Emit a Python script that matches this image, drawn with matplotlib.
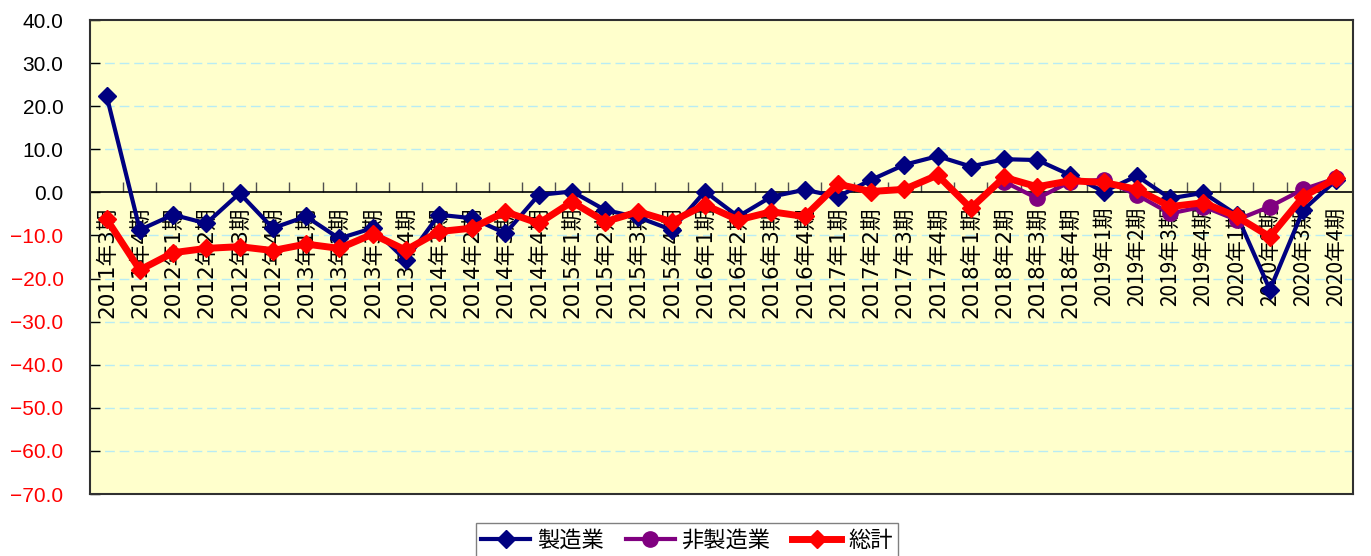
import numpy as np
import matplotlib
matplotlib.use("Agg")
import matplotlib.pyplot as plt
from matplotlib.ticker import FixedLocator

categories = [
    "2011年3期", "2011年4期",
    "2012年1期", "2012年2期", "2012年3期", "2012年4期",
    "2013年1期", "2013年2期", "2013年3期", "2013年4期",
    "2014年1期", "2014年2期", "2014年3期", "2014年4期",
    "2015年1期", "2015年2期", "2015年3期", "2015年4期",
    "2016年1期", "2016年2期", "2016年3期", "2016年4期",
    "2017年1期", "2017年2期", "2017年3期", "2017年4期",
    "2018年1期", "2018年2期", "2018年3期", "2018年4期",
    "2019年1期", "2019年2期", "2019年3期", "2019年4期",
    "2020年1期", "2020年2期", "2020年3期", "2020年4期",
]

manufacturing = [
    22.4, -8.7, -5.2, -7.2, -0.2, -8.3, -5.6, -10.7, -8.3, -15.7,
    -5.2, -6.0, -9.5, -0.6, 0.2, -4.1, -5.8, -8.7, 0.2, -5.6,
    -1.0, 0.6, -1.0, 2.9, 6.4, 8.4, 6.0, 7.7, 7.5, 4.0,
    0.2, 3.8, -1.4, -0.1, -5.2, -22.6, -4.1, 2.9,
]
non_manufacturing = [
    None, None, None, None, None, None, None, None, None, None,
    None, None, None, None, None, None, None, None, None, None,
    None, None, None, None, None, None, None, 2.5, -1.4, 2.5,
    2.9, -0.6, -4.9, -3.3, -6.4, -3.3, 0.7, 3.3,
]
total = [
    -6.2, -18.0, -14.0, -13.0, -12.6, -13.5, -12.0, -13.0, -9.7, -13.4,
    -9.1, -8.3, -4.5, -7.2, -2.2, -6.8, -4.5, -6.8, -2.9, -6.4,
    -4.5, -5.6, 1.9, 0.2, 0.7, 4.0, -3.7, 3.5, 1.3, 2.7,
    2.3, 0.7, -3.3, -2.4, -5.6, -10.3, -1.0, 3.3,
]
series_names = ["製造業", "非製造業", "総計"]

y_ticks = [40, 30, 20, 10, 0, -10, -20, -30, -40, -50, -60, -70]
y_tick_labels = ["40.0", "30.0", "20.0", "10.0", "0.0", "−10.0", "−20.0",
                 "−30.0", "−40.0", "−50.0", "−60.0", "−70.0"]

cjk = ["Noto Sans CJK JP", "DejaVu Sans"]
wide_digits = ["DejaVu Sans", "Noto Sans CJK JP"]

fig = plt.figure(figsize=(13.71, 5.56), dpi=100)
ax = fig.add_axes([90 / 1371, 1 - 494 / 556, 1263 / 1371, 474 / 556])
ax.set_facecolor("#FFFFCC")

x = np.arange(len(categories))
nm = np.array([np.nan if v is None else v for v in non_manufacturing], dtype=float)

ax.plot(x, manufacturing, color="#000080", lw=3, marker="D", ms=9,
        label=series_names[0], zorder=3)
ax.plot(x, nm, color="#800080", lw=3, marker="o", ms=11,
        label=series_names[1], zorder=4)
ax.plot(x, total, color="#FF0000", lw=5, marker="D", ms=9,
        label=series_names[2], zorder=5)

ax.set_xlim(-0.5, len(categories) - 0.5)
ax.set_ylim(-70, 40)

# grid
for yv in y_ticks:
    if yv not in (0, 40, -70):
        ax.axhline(yv, color="#B8ECF4", lw=1, dashes=(7, 3.5), zorder=1)

# spines
for s in ["left", "right", "top"]:
    ax.spines[s].set_color("#303030")
    ax.spines[s].set_linewidth(1.5)
ax.spines["bottom"].set_position(("data", 0))
ax.spines["bottom"].set_color("black")
ax.spines["bottom"].set_linewidth(1.2)
ax.spines["bottom"].set_zorder(2)
ax.axhline(-70, color="#303030", lw=1.5, clip_on=False, zorder=2)

ax.set_yticks(y_ticks)
ax.set_yticklabels(y_tick_labels, fontfamily="Liberation Sans", fontsize=15)
for lbl, v in zip(ax.get_yticklabels(), y_ticks):
    lbl.set_color("red" if v < 0 else "black")
ax.tick_params(axis="y", direction="in", length=7, width=1, pad=19,
               right=False)

ax.set_xticks(x)
ax.set_xticklabels(categories, rotation=90)
for i, lbl in enumerate(ax.get_xticklabels()):
    if i < 30:
        lbl.set_fontfamily(wide_digits)
        lbl.set_fontsize(15.5)
    else:
        lbl.set_fontfamily(cjk)
        lbl.set_fontsize(15)
ax.xaxis.set_minor_locator(FixedLocator(np.arange(0.5, len(categories) - 1, 1.0)))
ax.tick_params(axis="x", which="major", length=0, pad=10)
ax.tick_params(axis="x", which="minor", direction="in", length=7, width=1,
               color="#505050")

leg = ax.legend(loc="upper center", bbox_to_anchor=(0.501, 1 - 523 / 556),
                bbox_transform=fig.transFigure, ncol=3, frameon=True,
                fancybox=False, edgecolor="#808080", framealpha=1,
                prop={"family": cjk, "size": 16}, handlelength=2.2,
                handletextpad=0.3, columnspacing=1.0, borderpad=0.25,
                borderaxespad=0)
leg.get_frame().set_linewidth(1)

fig.savefig("out.png", dpi=100)
